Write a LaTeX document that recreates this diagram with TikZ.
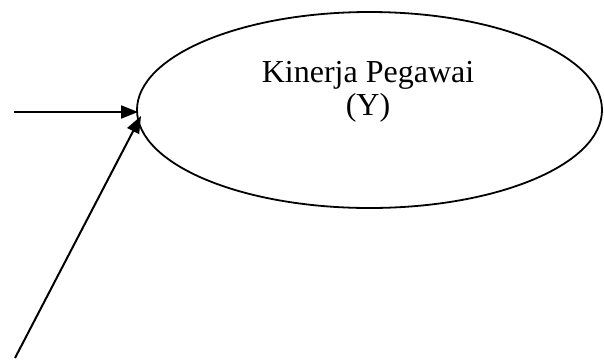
\documentclass[tikz,border=0pt]{standalone}
\usepackage{fontspec}
\setmainfont{Liberation Serif}
\usetikzlibrary{shapes.geometric,arrows.meta}
\begin{document}
\begin{tikzpicture}[x=1bp,y=-1bp,
  conn/.style={line width=2bp,-{Triangle[length=17bp,width=13bp]}},
  oval/.style={draw,ellipse,line width=1.8bp,minimum width=465bp,minimum height=196bp,inner sep=0pt}]
\useasboundingbox (0,0) rectangle (604,360);
\node[oval] (e) at (369.5,110) {};
\node[align=center,font=\fontsize{32bp}{33bp}\selectfont] (t) at (368,92) {Kinerja Pegawai\\(Y)};
\coordinate (a) at (14,112);
\coordinate (ta) at (138,112);
\coordinate (b) at (15,358);
\coordinate (tb) at (141,116);
\draw[conn] (a) -- (ta);
\draw[conn] (b) -- (tb);
\end{tikzpicture}
\end{document}
